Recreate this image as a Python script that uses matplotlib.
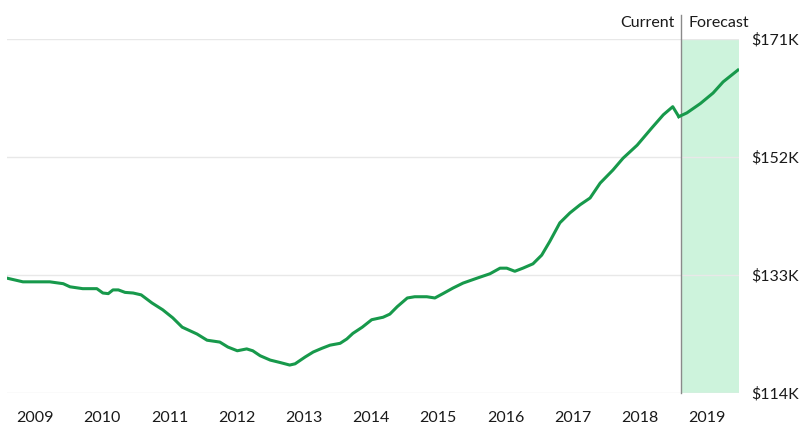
import matplotlib.pyplot as plt

# home value index, $K (decimal years)
hist_dates = [2008.58, 2008.82, 2009.22, 2009.42, 2009.52, 2009.71, 2009.92, 2010.01,
              2010.09, 2010.16, 2010.24, 2010.34, 2010.46, 2010.58, 2010.74, 2010.90,
              2011.05, 2011.19, 2011.31, 2011.41, 2011.56, 2011.75, 2011.87, 2012.01,
              2012.15, 2012.24, 2012.35, 2012.50, 2012.65, 2012.79, 2012.87, 2013.02,
              2013.14, 2013.27, 2013.39, 2013.54, 2013.64, 2013.73, 2013.87, 2014.01,
              2014.18, 2014.28, 2014.39, 2014.54, 2014.65, 2014.83, 2014.95, 2015.07,
              2015.22, 2015.37, 2015.58, 2015.77, 2015.92, 2016.02, 2016.14, 2016.26,
              2016.41, 2016.54, 2016.66, 2016.81, 2016.96, 2017.11, 2017.26, 2017.41,
              2017.60, 2017.75, 2017.96, 2018.18, 2018.35, 2018.49, 2018.58]
hist_vals = [132.5, 131.9, 131.9, 131.6, 131.1, 130.8, 130.8, 130.1,
             130.0, 130.6, 130.6, 130.2, 130.1, 129.8, 128.5, 127.4,
             126.1, 124.6, 124.0, 123.5, 122.5, 122.2, 121.4, 120.8,
             121.1, 120.8, 120.0, 119.3, 118.9, 118.5, 118.7, 119.8,
             120.6, 121.2, 121.7, 122.0, 122.7, 123.6, 124.6, 125.8,
             126.2, 126.7, 127.9, 129.3, 129.5, 129.5, 129.3, 130.0,
             130.9, 131.7, 132.5, 133.2, 134.1, 134.1, 133.6, 134.1,
             134.8, 136.2, 138.4, 141.4, 143.0, 144.3, 145.4, 147.8,
             149.9, 151.8, 153.9, 156.7, 158.8, 160.1, 158.5]

fc_dates = [2018.58, 2018.70, 2018.90, 2019.09, 2019.24, 2019.46]
fc_vals = [158.5, 159.1, 160.6, 162.3, 164.1, 166.0]

current = 2018.61
x_end = 2019.476
years = list(range(2009, 2020))
y_ticks = [114, 133, 152, 171]
y_labels = ['$114K', '$133K', '$152K', '$171K']

plt.rcParams['font.family'] = ['Lato', 'DejaVu Sans']

fig = plt.figure(figsize=(8.04, 4.36), dpi=100)
ax = fig.add_axes([7/804, 1-393/436, 732/804, 354/436])

ax.axvspan(current, x_end, color='#cdf3dc', zorder=0, lw=0)
for v in y_ticks:
    ax.axhline(v, color='#e8e8e8', lw=1, zorder=1)

green = '#17994b'
ax.plot(hist_dates, hist_vals, color=green, lw=2.2, zorder=3, solid_joinstyle='round')
ax.plot(fc_dates, fc_vals, color=green, lw=2.2, zorder=3, solid_joinstyle='round')

ax.plot([current, current], [114, 171 + 24/354*57], color='#8a8a8a', lw=1,
        zorder=2, clip_on=False)

ax.set_xlim(2008.583, x_end)
ax.set_ylim(114, 171)
for s in ax.spines.values():
    s.set_visible(False)

ax.set_xticks(years)
ax.set_xticklabels([str(y) for y in years], fontsize=11.5, color='#1a1a1a')
ax.tick_params(axis='x', length=0, pad=13)

ax.yaxis.tick_right()
ax.set_yticks(y_ticks)
ax.set_yticklabels(y_labels, fontsize=11.5, color='#1a1a1a')
ax.tick_params(axis='y', length=0, pad=9)

ax.text(current - 0.09, 171 + 16/354*57, 'Current', ha='right', va='center',
        fontsize=11.5, color='#1a1a1a')
ax.text(current + 0.11, 171 + 16/354*57, 'Forecast', ha='left', va='center',
        fontsize=11.5, color='#1a1a1a')

fig.savefig('out.png', dpi=100)
